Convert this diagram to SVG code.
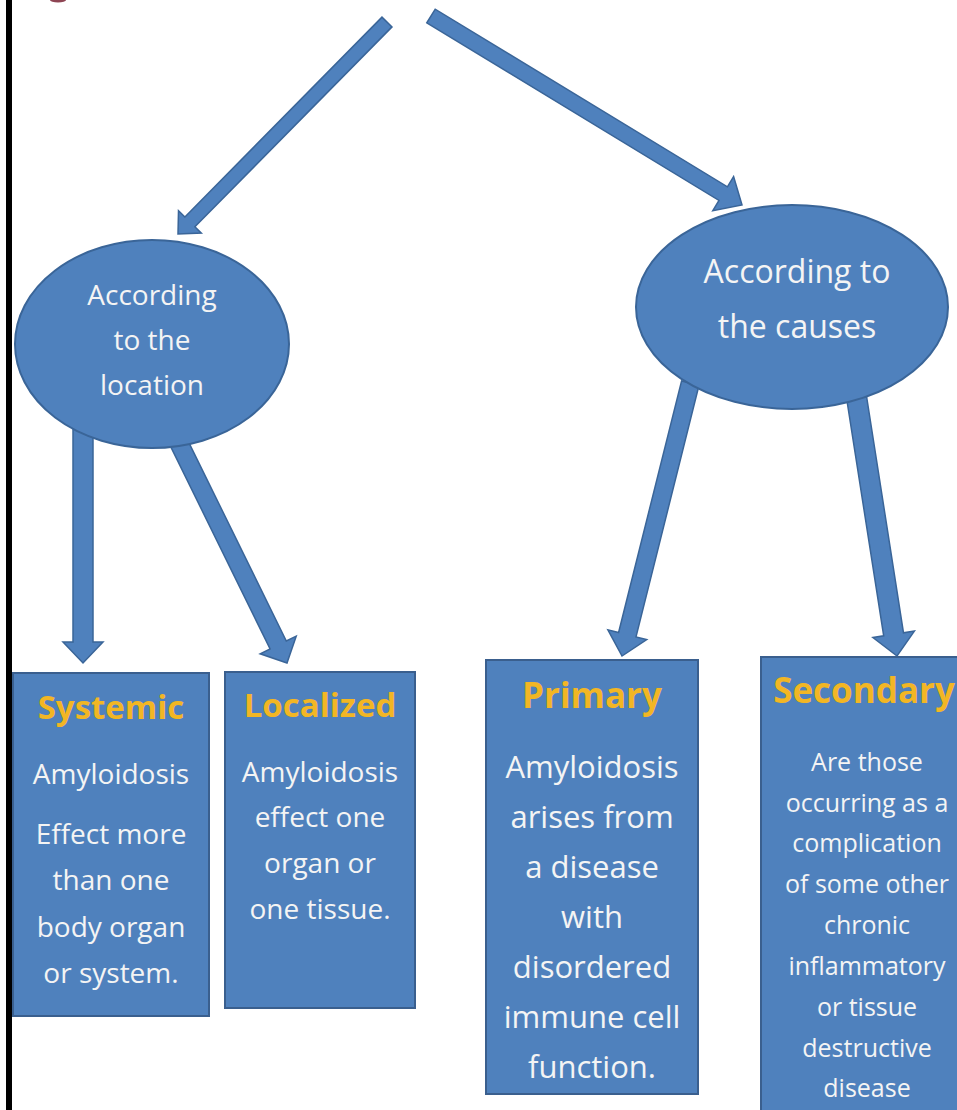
<svg xmlns="http://www.w3.org/2000/svg" width="957" height="1110" viewBox="0 0 957 1110">
<style>
.arrow{fill:#4F81BD;stroke:#3A6598;stroke-width:1.5;stroke-linejoin:miter}
.ell{fill:#4F81BD;stroke:#3A6598;stroke-width:2}
.box{fill:#4F81BD;stroke:#3A5F8E;stroke-width:2}
.t{font-family:"Open Sans","Noto Sans",sans-serif;fill:#F4F4F4;text-anchor:middle}
.h{font-family:"Open Sans","Noto Sans",sans-serif;font-weight:bold;fill:#F2B624;text-anchor:middle}
</style>
<rect x="0" y="0" width="957" height="1110" fill="#FFFFFF"/>
<rect x="6" y="0" width="6" height="1110" fill="#000000"/>
<ellipse cx="58" cy="0" rx="8" ry="2.5" fill="#8E4553"/>
<g id="connectors">
<polygon class="arrow" points="382.0,17.1 184.9,217.0 178.5,210.7 178,234 201.3,233.1 194.9,226.8 392.0,26.9"/>
<polygon class="arrow" points="426.8,22.8 719.0,200.4 712.8,210.7 742,205 733.6,176.5 727.4,186.8 435.2,9.2"/>
<polygon class="arrow" points="73,425 73,642 63,642 83,663 103,642 93,642 93,425"/>
<polygon class="arrow" points="169.7,444.6 270.1,649.0 260.2,653.8 287,663 296.2,636.2 286.3,641.0 185.9,436.6"/>
<polygon class="arrow" points="681.6,380.9 618.6,632.5 607.9,629.8 622,656 646.7,639.5 636.0,636.9 699.0,385.3"/>
<polygon class="arrow" points="846.3,396.5 883.7,635.8 872.9,637.5 897,656 914.4,631.1 903.5,632.8 866.1,393.5"/>
</g>
<g id="node-location">
<ellipse class="ell" cx="152" cy="344" rx="137" ry="104"/>
<text class="t" x="152" y="305" font-size="28">According</text>
<text class="t" x="152" y="350" font-size="28">to the</text>
<text class="t" x="152" y="395" font-size="28">location</text>
</g>
<g id="node-causes">
<ellipse class="ell" cx="792" cy="307" rx="156" ry="102"/>
<text class="t" x="797" y="283" font-size="32">According to</text>
<text class="t" x="797" y="338" font-size="32">the causes</text>
</g>
<g id="node-systemic">
<rect class="box" x="13" y="673" width="196" height="343"/>
<text class="h" x="111" y="719" font-size="33">Systemic</text>
<text class="t" x="111" y="784" font-size="28">Amyloidosis</text>
<text class="t" x="111" y="844" font-size="28">Effect more</text>
<text class="t" x="111" y="890" font-size="28">than one</text>
<text class="t" x="111" y="937" font-size="28">body organ</text>
<text class="t" x="111" y="983" font-size="28">or system.</text>
</g>
<g id="node-localized">
<rect class="box" x="225" y="672" width="190" height="336"/>
<text class="h" x="320" y="717" font-size="33">Localized</text>
<text class="t" x="320" y="782" font-size="28">Amyloidosis</text>
<text class="t" x="320" y="827" font-size="28">effect one</text>
<text class="t" x="320" y="873" font-size="28">organ or</text>
<text class="t" x="320" y="919" font-size="28">one tissue.</text>
</g>
<g id="node-primary">
<rect class="box" x="486" y="660" width="212" height="434"/>
<text class="h" x="592" y="708" font-size="35">Primary</text>
<text class="t" x="592" y="778" font-size="31">Amyloidosis</text>
<text class="t" x="592" y="828" font-size="31">arises from</text>
<text class="t" x="592" y="878" font-size="31">a disease</text>
<text class="t" x="592" y="928" font-size="31">with</text>
<text class="t" x="592" y="978" font-size="31">disordered</text>
<text class="t" x="592" y="1028" font-size="31">immune cell</text>
<text class="t" x="592" y="1078" font-size="31">function.</text>
</g>
<g id="node-secondary">
<rect class="box" x="761" y="657" width="212" height="480"/>
<text class="h" x="864" y="703" font-size="35">Secondary</text>
<text class="t" x="867" y="771" font-size="25">Are those</text>
<text class="t" x="867" y="812" font-size="25">occurring as a</text>
<text class="t" x="867" y="852" font-size="25">complication</text>
<text class="t" x="867" y="893" font-size="25">of some other</text>
<text class="t" x="867" y="934" font-size="25">chronic</text>
<text class="t" x="867" y="975" font-size="25">inflammatory</text>
<text class="t" x="867" y="1016" font-size="25">or tissue</text>
<text class="t" x="867" y="1057" font-size="25">destructive</text>
<text class="t" x="867" y="1097" font-size="25">disease</text>
</g>
</svg>
